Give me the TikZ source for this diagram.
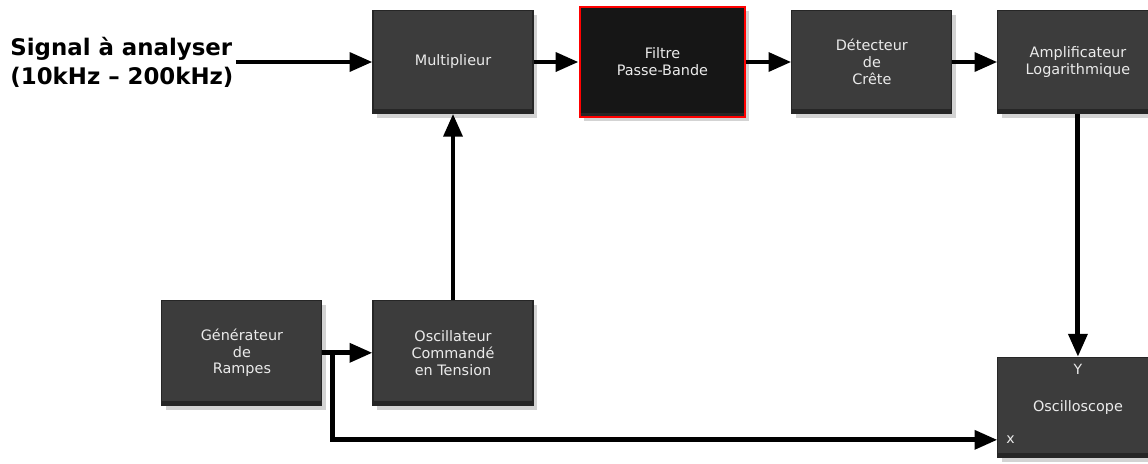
\documentclass[tikz,border=0pt]{standalone}
\usepackage{fontspec}
\setmainfont{DejaVu Sans}
\usetikzlibrary{arrows.meta,positioning,shadows,calc}

\definecolor{boxgray}{RGB}{60,60,60}
\definecolor{boxdark}{RGB}{22,22,22}

\begin{document}
\begin{tikzpicture}[->,>={Triangle[length=13pt,width=10.5pt]},line width=2.8pt,auto,node distance=0.9cm]
	\tikzstyle{block}=[fill=boxgray,draw=black!85,line width=0.6pt,text=white!92!black,
		minimum width=3.2cm,minimum height=2.05cm,align=center,
		font=\fontsize{8.2}{9.6}\selectfont,
		path picture={\fill[black!85] (path picture bounding box.south west) rectangle ([yshift=0.08cm]path picture bounding box.south east);},
		drop shadow={shadow xshift=2.5pt,shadow yshift=-2.5pt,opacity=.35}]
	
	\useasboundingbox (0,0) rectangle (22.96,-9.26);
	
	\node[anchor=west,inner sep=0pt,align=left,font=\bfseries\fontsize{13}{16.5}\selectfont] (s) at (0.16,-1.24) {Signal à analyser\\(10kHz – 200kHz)};
	\node[block] (0) at (9.06,-1.24) {Multiplieur};
	\node[block,fill=boxdark,draw=red,line width=1.6pt,minimum width=3.3cm,minimum height=2.2cm] (1) [right=0.9cm of 0] {Filtre\\Passe-Bande};
	\node[block] (2) [right=0.9cm of 1] {Détecteur\\de\\Crête};
	\node[block] (3) [right=0.9cm of 2] {Amplificateur\\Logarithmique};
	\node[block,minimum height=2.1cm] (5) [below=3.72cm of 0] {Oscillateur\\Commandé\\en Tension};
	\node[block,minimum height=2.1cm] (4) [left=1cm of 5] {Générateur\\de\\Rampes};
	\node[block,minimum height=2cm] (6) [below=4.86cm of 3] {Oscilloscope};
	\node[text=white!92!black,font=\fontsize{8}{9}\selectfont] (y) at ($(6.north)+(0,-0.26)$) {Y};
	\node[text=white!92!black,font=\fontsize{8}{9}\selectfont] (x) at ($(6.south west)+(0.26,0.36)$) {x};
	
	\coordinate[right=0.2cm of 4] (j);
	\coordinate (6x) at ($(6.south west)+(0,0.36)$);
	
	\path
	(s) edge node {} (0)
	(0) edge node {} (1)
	(1) edge node {} (2)
	(2) edge node {} (3)
	(3) edge node {} (6)
	(5) edge node {} (0)
	;
	\draw[-] (4) -- (j);
	\draw (j) -- (5);
	\draw (j) |- (6x);
\end{tikzpicture}
\end{document}
